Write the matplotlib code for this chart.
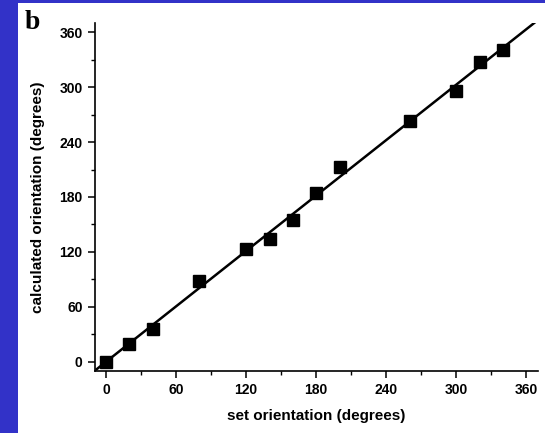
import numpy as np
import matplotlib
matplotlib.use("Agg")
import matplotlib.pyplot as plt
from matplotlib.patches import Rectangle
from matplotlib.ticker import MultipleLocator

set_deg = [0, 20, 40, 80, 120, 140, 160, 180, 200, 260, 300, 320, 340]
calc_deg = [0, 20, 36, 88, 123, 134, 155, 184, 213, 263, 296, 327, 341]
ticks = [0, 60, 120, 180, 240, 300, 360]

plt.rcParams['font.family'] = ['Liberation Sans', 'DejaVu Sans']

fig = plt.figure(figsize=(5.45, 4.33), dpi=100)
fig.patch.set_facecolor('#3232c8')
panel = Rectangle((18 / 545, 0), 1, 1 - 3 / 433, transform=fig.transFigure,
                  facecolor='white', edgecolor='none', zorder=-10)
fig.patches.append(panel)

ax = fig.add_axes([95 / 545, 1 - 371 / 433, (538 - 95) / 545, (371 - 23) / 433])
ax.set_zorder(1)
ax.patch.set_alpha(0)

# linear fit through the measurements
slope, intercept = np.polyfit(set_deg, calc_deg, 1)
xf = np.array([-8, 367])
ax.plot(xf, slope * xf + intercept, color='black', lw=1.8, zorder=2)
ax.plot(set_deg, calc_deg, 's', color='black', ms=8, zorder=3)

ax.set_xlim(-9.5, 370)
ax.set_ylim(-10, 370)
ax.set_xticks(ticks)
ax.set_yticks(ticks)
ax.xaxis.set_minor_locator(MultipleLocator(30))
ax.yaxis.set_minor_locator(MultipleLocator(30))
for s in ['top', 'right']:
    ax.spines[s].set_visible(False)
for s in ['left', 'bottom']:
    ax.spines[s].set_linewidth(1.2)
ax.tick_params(which='major', direction='out', length=5, width=1.1, labelsize=10, pad=4)
ax.tick_params(which='minor', direction='out', length=3, width=1.0)
for lab in ax.get_xticklabels() + ax.get_yticklabels():
    lab.set_fontweight('bold')

ax.set_xlabel('set orientation (degrees)', fontsize=11, fontweight='bold', labelpad=8)
ax.set_ylabel('calculated orientation (degrees)', fontsize=11, fontweight='bold', labelpad=10)

fig.text(25 / 545, 1 - 29 / 433, 'b', fontsize=20, fontweight='bold',
         family=['Liberation Serif', 'DejaVu Serif'], zorder=5)

fig.savefig('out.png', dpi=100, facecolor=fig.get_facecolor())
